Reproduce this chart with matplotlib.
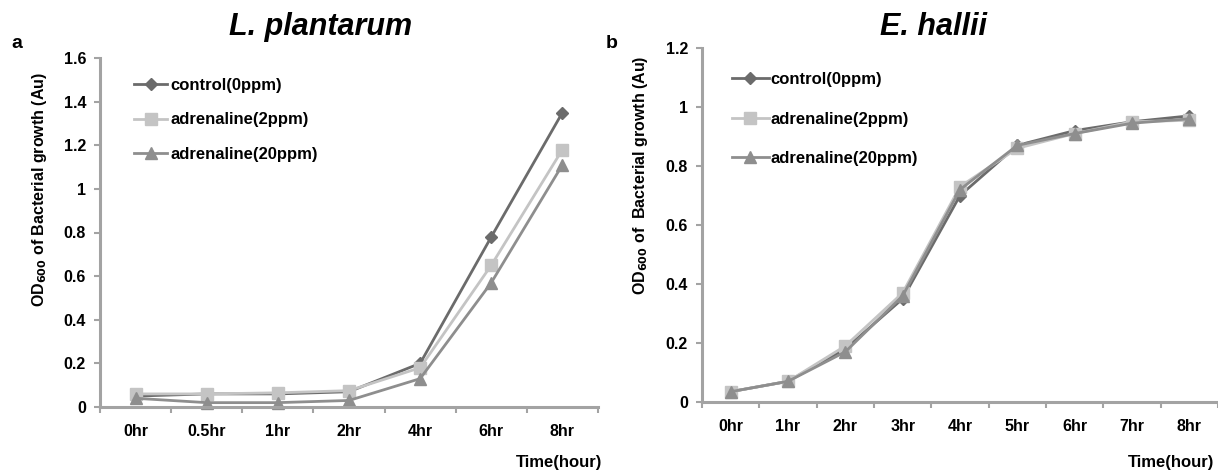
import matplotlib.pyplot as plt

plt.rcParams['font.family'] = ['Liberation Sans', 'DejaVu Sans']
plt.rcParams['font.weight'] = 'bold'

# panel a: L. plantarum
times_a = ['0hr', '0.5hr', '1hr', '2hr', '4hr', '6hr', '8hr']
control_a = [0.05, 0.06, 0.06, 0.07, 0.20, 0.78, 1.35]
adr2_a = [0.06, 0.06, 0.065, 0.075, 0.18, 0.65, 1.18]
adr20_a = [0.04, 0.02, 0.02, 0.03, 0.13, 0.57, 1.11]

# panel b: E. hallii
times_b = ['0hr', '1hr', '2hr', '3hr', '4hr', '5hr', '6hr', '7hr', '8hr']
control_b = [0.035, 0.07, 0.18, 0.35, 0.70, 0.87, 0.92, 0.95, 0.97]
adr2_b = [0.035, 0.07, 0.19, 0.37, 0.73, 0.86, 0.91, 0.95, 0.955]
adr20_b = [0.035, 0.07, 0.17, 0.36, 0.72, 0.87, 0.91, 0.945, 0.96]

labels = ['control(0ppm)', 'adrenaline(2ppm)', 'adrenaline(20ppm)']
colors = ['#6b6b6b', '#c4c4c4', '#8e8e8e']
markers = ['D', 's', '^']
msizes = [6.5, 8.5, 8.5]

FS = 11.5
W, H = 1218, 475
fig = plt.figure(figsize=(W / 100, H / 100), dpi=100)

def px_axes(left, right, bottom, top):
    return fig.add_axes([left / W, 1 - bottom / H, (right - left) / W, (bottom - top) / H])

def style(ax, ymax, ystep, ylabels):
    for s in ['top', 'right']:
        ax.spines[s].set_visible(False)
    for s in ['left', 'bottom']:
        ax.spines[s].set_color('#a3a3a3')
        ax.spines[s].set_linewidth(2.2)
    ax.set_ylim(0, ymax)
    ticks = [i * ystep for i in range(len(ylabels))]
    ax.set_yticks(ticks)
    ax.set_yticklabels(ylabels, fontsize=FS, fontweight='bold')
    ax.tick_params(axis='y', length=4, width=1.5, color='#a3a3a3', pad=6)
    ax.tick_params(axis='x', which='major', length=0, pad=12)
    ax.tick_params(axis='x', which='minor', length=4, width=1.5, color='#a3a3a3')

def draw(ax, cats, series, xmax):
    x = list(range(len(cats)))
    for vals, lab, c, m, ms in zip(series, labels, colors, markers, msizes):
        ax.plot(x, vals, color=c, marker=m, markersize=ms, linewidth=2.0,
                markeredgecolor=c, label=lab, clip_on=False)
    ax.set_xlim(-0.5, xmax)
    ax.set_xticks(x)
    ax.set_xticklabels(cats, fontsize=FS, fontweight='bold')
    ax.set_xticks([i - 0.5 for i in range(len(cats) + 1)], minor=True)

ax1 = px_axes(100, 598, 407, 58)
draw(ax1, times_a, [control_a, adr2_a, adr20_a], 6.5)
style(ax1, 1.6, 0.2, ['0', '0.2', '0.4', '0.6', '0.8', '1', '1.2', '1.4', '1.6'])
ax1.set_ylabel('OD$_{600}$ of Bacterial growth (Au)', fontsize=FS, fontweight='bold')
ax1.yaxis.set_label_coords(-0.102, 0.622)
ax1.legend(loc='upper left', bbox_to_anchor=(0.055, 0.962), frameon=False, fontsize=12,
           handlelength=2.0, handletextpad=0.2, labelspacing=1.17, borderaxespad=0)

ax2 = px_axes(702, 1218, 402, 48)
draw(ax2, times_b, [control_b, adr2_b, adr20_b], 8.5 - 4 / 58)
style(ax2, 1.2, 0.2, ['0', '0.2', '0.4', '0.6', '0.8', '1', '1.2'])
ax2.set_ylabel('OD$_{600}$ of  Bacterial growth (Au)', fontsize=FS, fontweight='bold')
ax2.yaxis.set_label_coords(-0.1, 0.641)
ax2.legend(loc='upper left', bbox_to_anchor=(0.045, 0.951), frameon=False, fontsize=12,
           handlelength=2.2, handletextpad=0.1, labelspacing=1.47, borderaxespad=0)

fig.text(321 / W, 1 - 27 / H, 'L. plantarum', fontsize=22, fontweight='bold', style='italic',
         ha='center', va='center')
fig.text(933 / W, 1 - 27 / H, 'E. hallii', fontsize=22, fontweight='bold', style='italic',
         ha='center', va='center')
fig.text(17 / W, 1 - 43 / H, 'a', fontsize=14, fontweight='bold', ha='center', va='center')
fig.text(612 / W, 1 - 43 / H, 'b', fontsize=14, fontweight='bold', ha='center', va='center')
fig.text(602 / W, 1 - 463 / H, 'Time(hour)', fontsize=12, fontweight='bold', ha='right', va='center')
fig.text(1214 / W, 1 - 463 / H, 'Time(hour)', fontsize=12, fontweight='bold', ha='right', va='center')

fig.savefig('out.png', dpi=100)
